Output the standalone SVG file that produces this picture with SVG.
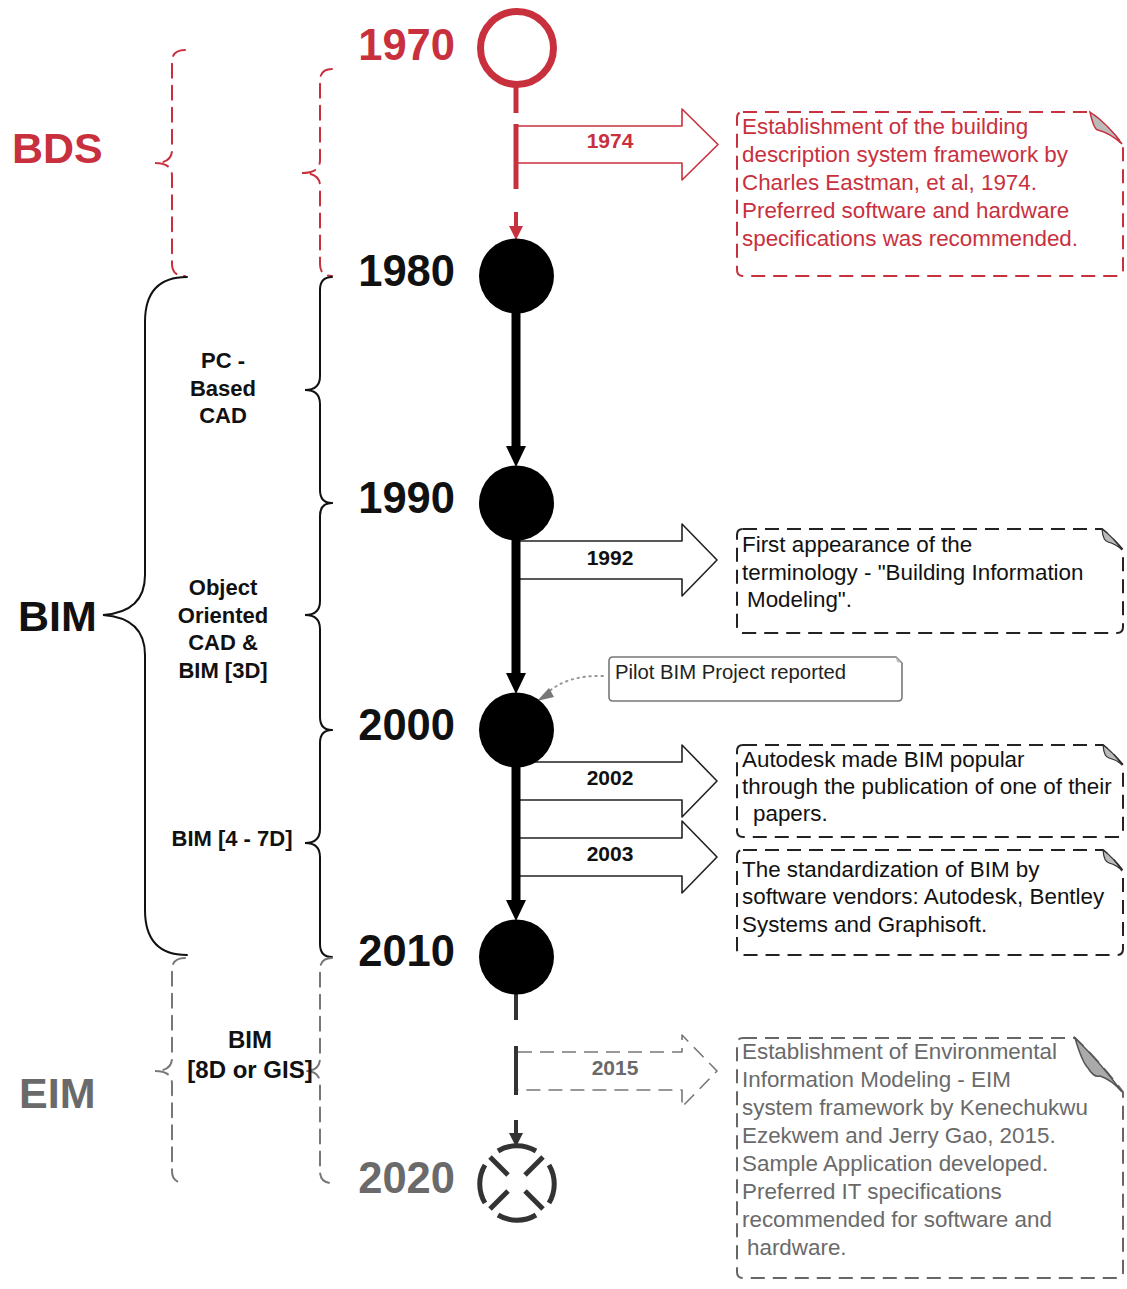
<svg xmlns="http://www.w3.org/2000/svg" width="1127" height="1289" viewBox="0 0 1127 1289">
  <style>
    .yr { font-family: "Liberation Sans", Arial, sans-serif; font-weight: bold; font-size: 43.5px; text-anchor: end; }
    .era { font-family: "Liberation Sans", Arial, sans-serif; font-weight: bold; font-size: 43px; }
    .sub { font-family: "Liberation Sans", Arial, sans-serif; font-weight: bold; font-size: 22px; text-anchor: middle; fill: #111; }
    .lbl { font-family: "Liberation Sans", Arial, sans-serif; font-weight: bold; font-size: 21px; text-anchor: middle; }
    .note { font-family: "Liberation Sans", Arial, sans-serif; font-size: 22.4px; }
    .red { fill: #c9303e; }
    .gry { fill: #6a6a6a; }
    .blk { fill: #111; }
    .brace { fill: none; stroke-width: 2; stroke-linecap: round; }
    .box { fill: none; stroke-width: 2; stroke-dasharray: 14 8; }
    .block { fill: #fff; stroke-width: 1.6; stroke-linejoin: round; }
  </style>

  <rect width="1127" height="1289" fill="#fff"/>

  <!-- era labels and braces -->
  <g id="era-bds">
    <text class="era red" x="12" y="163">BDS</text>
    <path class="brace" stroke="#c9303e" stroke-dasharray="14 8" d="M185,50 Q172,50 172,62 V150 Q172,163 155,163 Q172,163 172,176 V264 Q172,276 185,276"/>
    <path class="brace" stroke="#c9303e" stroke-dasharray="14 8" d="M332,69 Q320,69 320,81 V160 Q320,173 302,173 Q320,173 320,186 V264 Q320,276 332,276"/>
  </g>
  <g id="era-bim">
    <text class="era blk" x="18" y="631">BIM</text>
    <path class="brace" stroke="#111" d="M187,277 Q145,277 145,322 V575 Q145,612 103,615 Q145,618 145,655 V910 Q145,955 187,955"/>
    <path class="brace" stroke="#111" d="M332,277 Q320,277 320,290 V376 Q320,390 305,390 Q320,390 320,404 V490 Q320,503 332,503"/>
    <path class="brace" stroke="#111" d="M332,503 Q320,503 320,516 V601 Q320,615 305,615 Q320,615 320,629 V717 Q320,730 332,730"/>
    <path class="brace" stroke="#111" d="M332,730 Q320,730 320,743 V829 Q320,843 305,843 Q320,843 320,857 V944 Q320,957 332,957"/>
  </g>
  <g id="phase-pc-cad">
    <text class="sub" x="223" y="368">PC -</text>
    <text class="sub" x="223" y="396">Based</text>
    <text class="sub" x="223" y="423">CAD</text>
  </g>
  <g id="phase-oo-cad">
    <text class="sub" x="223" y="595">Object</text>
    <text class="sub" x="223" y="623">Oriented</text>
    <text class="sub" x="223" y="650">CAD &amp;</text>
    <text class="sub" x="223" y="678">BIM [3D]</text>
  </g>
  <g id="phase-bim-4-7d">
    <text class="sub" x="232" y="846">BIM [4 - 7D]</text>
  </g>
  <g id="era-eim">
    <text class="era gry" x="19" y="1108">EIM</text>
    <path class="brace" stroke="#777" stroke-dasharray="14 8" d="M185,958 Q172,958 172,970 V1058 Q172,1071 155,1071 Q172,1071 172,1084 V1171 Q172,1183 185,1183"/>
    <path class="brace" stroke="#777" stroke-dasharray="14 8" d="M332,958 Q320,958 320,970 V1058 Q320,1071 305,1071 Q320,1071 320,1084 V1171 Q320,1183 332,1183"/>
  </g>
  <g id="phase-bim-8d">
    <text class="sub" x="250" y="1048" style="font-size:24px">BIM</text>
    <text class="sub" x="250" y="1078" style="font-size:24px">[8D or GIS]</text>
  </g>

  <!-- connectors: timeline segments and event arrows -->
  <g id="connectors">
    <!-- 1970 to 1980 -->
    <line x1="516" y1="86" x2="516" y2="113" stroke="#c9303e" stroke-width="5"/>
    <path class="block" stroke="#c9303e" d="M517,126 H682 V109 L718,144.5 L682,180 V163 H517"/>
    <line x1="516" y1="124" x2="516" y2="189" stroke="#c9303e" stroke-width="5"/>
    <line x1="516" y1="212" x2="516" y2="227" stroke="#c9303e" stroke-width="4"/>
    <path d="M509,226 L523,226 L516,240 Z" fill="#c9303e"/>
    <text class="lbl red" x="610" y="148">1974</text>

    <!-- 1980 to 1990 -->
    <line x1="516" y1="312" x2="516" y2="448" stroke="#000" stroke-width="9"/>
    <path d="M506,446 L526,446 L516,467 Z" fill="#000"/>

    <!-- 1990 to 2000 -->
    <path class="block" stroke="#222" d="M518,541 H682 V524 L717,560 L682,596 V579 H518"/>
    <text class="lbl blk" x="610" y="565">1992</text>
    <line x1="516" y1="539" x2="516" y2="675" stroke="#000" stroke-width="9"/>
    <path d="M506,673 L526,673 L516,694 Z" fill="#000"/>
    <path d="M603,676 Q566,675 546,694" fill="none" stroke="#999" stroke-width="2" stroke-dasharray="1.5 4.5" stroke-linecap="round"/>
    <path d="M549,688 L537,701 L554,697 Z" fill="#777"/>

    <!-- 2000 to 2010 -->
    <path class="block" stroke="#222" d="M518,762 H682 V745 L717,781 L682,817 V800 H518"/>
    <text class="lbl blk" x="610" y="785">2002</text>
    <path class="block" stroke="#222" d="M518,838 H682 V821 L717,857 L682,893 V876 H518"/>
    <text class="lbl blk" x="610" y="861">2003</text>
    <line x1="516" y1="766" x2="516" y2="902" stroke="#000" stroke-width="9"/>
    <path d="M506,900 L526,900 L516,921 Z" fill="#000"/>

    <!-- 2010 to 2020 -->
    <line x1="516" y1="993" x2="516" y2="1020" stroke="#333" stroke-width="4"/>
    <path class="block" stroke="#777" stroke-dasharray="14 8" d="M518,1052 H682 V1035 L717,1071 L682,1107 V1090 H518"/>
    <line x1="516" y1="1046" x2="516" y2="1095" stroke="#333" stroke-width="4"/>
    <text class="lbl gry" x="615" y="1075">2015</text>
    <line x1="516" y1="1120" x2="516" y2="1134" stroke="#333" stroke-width="4"/>
    <path d="M509,1133 L523,1133 L516,1147 Z" fill="#333"/>
  </g>

  <!-- decade milestones -->
  <g id="y1970">
    <circle cx="517" cy="48" r="36.5" fill="#fff" stroke="#c9303e" stroke-width="7"/>
    <text class="yr red" x="455" y="60">1970</text>
  </g>
  <g id="y1980">
    <circle cx="516.5" cy="276" r="37.5" fill="#000"/>
    <text class="yr blk" x="455" y="286">1980</text>
  </g>
  <g id="y1990">
    <circle cx="516.5" cy="503" r="37.5" fill="#000"/>
    <text class="yr blk" x="455" y="513">1990</text>
  </g>
  <g id="y2000">
    <circle cx="516.5" cy="730" r="37.5" fill="#000"/>
    <text class="yr blk" x="455" y="740">2000</text>
  </g>
  <g id="y2010">
    <circle cx="516.5" cy="957" r="37.5" fill="#000"/>
    <text class="yr blk" x="455" y="966">2010</text>
  </g>
  <g id="y2020">
    <g fill="none" stroke="#333" stroke-width="5">
      <!-- four arc pieces of the open ring -->
      <path d="M498,1151 A37,37 0 0 1 536,1151"/>
      <path d="M549,1165 A37,37 0 0 1 549,1203"/>
      <path d="M536,1215 A37,37 0 0 1 498,1215"/>
      <path d="M485,1203 A37,37 0 0 1 485,1165"/>
      <!-- cross strokes -->
      <line x1="508" y1="1175" x2="490" y2="1157"/>
      <line x1="525" y1="1175" x2="543" y2="1157"/>
      <line x1="508" y1="1191" x2="490" y2="1209"/>
      <line x1="525" y1="1191" x2="543" y2="1209"/>
    </g>
    <text class="yr gry" x="455" y="1193">2020</text>
  </g>

  <!-- event notes -->
  <g id="note-1974">
    <path class="box" stroke="#c9303e" d="M743,112 H1090 Q1108,126 1123,145 V270 Q1123,276 1117,276 H743 Q737,276 737,270 V118 Q737,112 743,112"/>
    <path d="M1090,112 Q1094,130 1098,130 Q1110,133 1122,144 Q1108,124 1090,112 Z" fill="#bbb" stroke="#c9303e" stroke-width="1.5"/>
    <text class="note red" x="742" y="134">Establishment of the building</text>
    <text class="note red" x="742" y="162">description system framework by</text>
    <text class="note red" x="742" y="190">Charles Eastman, et al, 1974.</text>
    <text class="note red" x="742" y="218">Preferred software and hardware</text>
    <text class="note red" x="742" y="246">specifications was recommended.</text>
  </g>
  <g id="note-1992">
    <path class="box" stroke="#222" d="M743,529 H1102 Q1113,538 1123,550 V627 Q1123,633 1117,633 H743 Q737,633 737,627 V535 Q737,529 743,529"/>
    <path d="M1102,529 Q1103,541 1108,542 Q1116,544 1122,550 Q1113,537 1102,529 Z" fill="#bbb" stroke="#333" stroke-width="1.2"/>
    <text class="note blk" x="742" y="552">First appearance of the</text>
    <text class="note blk" x="742" y="580">terminology - "Building Information</text>
    <text class="note blk" x="747" y="607">Modeling".</text>
  </g>
  <g id="note-pilot">
    <path d="M613,657 H896 L902,663 V697 Q902,701 898,701 H613 Q609,701 609,697 V661 Q609,657 613,657" fill="#fff" stroke="#777" stroke-width="1.6"/>
    <path d="M896,657 L902,663 L897,662 Z" fill="#bbb"/>
    <text x="615" y="679" style="font-family:'Liberation Sans',Arial,sans-serif;font-size:20.3px;fill:#222">Pilot BIM Project reported</text>
  </g>
  <g id="note-2002">
    <path class="box" stroke="#222" d="M743,745 H1103 Q1114,754 1123,765 V831 Q1123,837 1117,837 H743 Q737,837 737,831 V751 Q737,745 743,745"/>
    <path d="M1103,745 Q1104,757 1109,758 Q1117,760 1122,765 Q1114,753 1103,745 Z" fill="#bbb" stroke="#333" stroke-width="1.2"/>
    <text class="note blk" x="742" y="767">Autodesk made BIM popular</text>
    <text class="note blk" x="742" y="794">through the publication of one of their</text>
    <text class="note blk" x="753" y="821">papers.</text>
  </g>
  <g id="note-2003">
    <path class="box" stroke="#222" d="M743,850 H1103 Q1114,859 1123,871 V949 Q1123,955 1117,955 H743 Q737,955 737,949 V856 Q737,850 743,850"/>
    <path d="M1103,850 Q1104,862 1109,863 Q1117,865 1122,871 Q1114,858 1103,850 Z" fill="#bbb" stroke="#333" stroke-width="1.2"/>
    <text class="note blk" x="742" y="877">The standardization of BIM by</text>
    <text class="note blk" x="742" y="904">software vendors: Autodesk, Bentley</text>
    <text class="note blk" x="742" y="932">Systems and Graphisoft.</text>
  </g>
  <g id="note-2015">
    <path class="box" stroke="#666" d="M743,1038 H1075 Q1100,1062 1123,1092 V1272 Q1123,1278 1117,1278 H743 Q737,1278 737,1272 V1044 Q737,1038 743,1038"/>
    <path d="M1075,1038 Q1082,1062 1088,1068 Q1094,1078 1100,1076 Q1112,1080 1122,1092 Q1100,1062 1075,1038 Z" fill="#aaa" stroke="#555" stroke-width="1.5"/>
    <text class="note gry" x="742" y="1059">Establishment of Environmental</text>
    <text class="note gry" x="742" y="1087">Information Modeling - EIM</text>
    <text class="note gry" x="742" y="1115">system framework by Kenechukwu</text>
    <text class="note gry" x="742" y="1143">Ezekwem and Jerry Gao, 2015.</text>
    <text class="note gry" x="742" y="1171">Sample Application developed.</text>
    <text class="note gry" x="742" y="1199">Preferred IT specifications</text>
    <text class="note gry" x="742" y="1227">recommended for software and</text>
    <text class="note gry" x="747" y="1255">hardware.</text>
  </g>
</svg>
